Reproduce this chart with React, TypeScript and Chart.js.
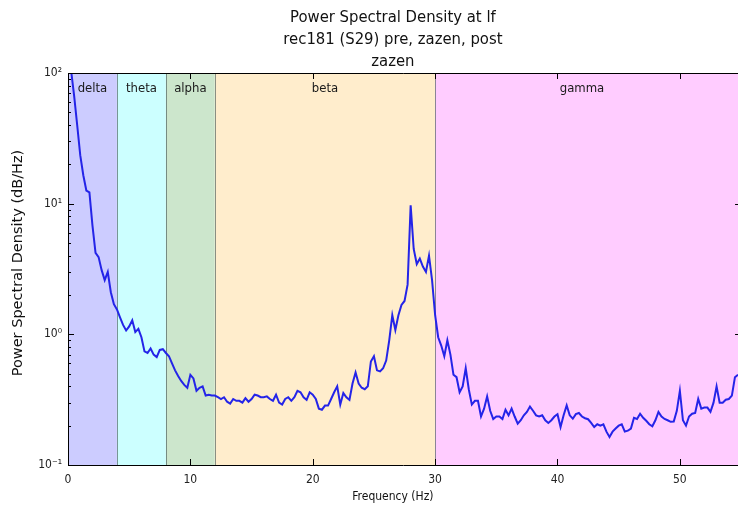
import { useEffect, useRef } from 'react';
import { Chart, registerables } from 'chart.js';

Chart.register(...registerables);

const FREQ_STEP = 0.25;
// PSD values sampled every 0.25 Hz from 0 Hz
const psd = [
  130, 105, 67, 40, 23.5, 16.5, 12.6, 12.2, 6.8, 4.2, 3.9, 3.1,
  2.6, 3.0, 2.1, 1.7, 1.55, 1.35, 1.18, 1.07, 1.15, 1.28, 1.04, 1.1,
  0.95, 0.74, 0.72, 0.78, 0.7, 0.67, 0.76, 0.77, 0.72, 0.68, 0.6, 0.53,
  0.48, 0.44, 0.41, 0.39, 0.49, 0.46, 0.37, 0.39, 0.4, 0.34, 0.345, 0.34,
  0.34, 0.33, 0.32, 0.33, 0.305, 0.295, 0.32, 0.31, 0.31, 0.3, 0.325, 0.305,
  0.32, 0.345, 0.34, 0.33, 0.33, 0.335, 0.32, 0.31, 0.345, 0.3, 0.29, 0.32,
  0.33, 0.31, 0.33, 0.37, 0.36, 0.33, 0.315, 0.36, 0.345, 0.32, 0.27, 0.265,
  0.285, 0.285, 0.32, 0.36, 0.4, 0.29, 0.355, 0.33, 0.315, 0.42, 0.51, 0.42,
  0.39, 0.38, 0.4, 0.62, 0.68, 0.53, 0.52, 0.55, 0.63, 0.9, 1.4, 1.08,
  1.4, 1.68, 1.8, 2.4, 9.7, 4.5, 3.45, 3.8, 3.3, 3.0, 4.0, 2.6,
  1.4, 0.95, 0.82, 0.68, 0.9, 0.7, 0.49, 0.47, 0.36, 0.4, 0.55, 0.38,
  0.29, 0.31, 0.31, 0.235, 0.27, 0.335, 0.26, 0.225, 0.235, 0.235, 0.225, 0.265,
  0.24, 0.27, 0.235, 0.207, 0.22, 0.24, 0.255, 0.28, 0.26, 0.24, 0.235, 0.24,
  0.22, 0.21, 0.22, 0.235, 0.245, 0.195, 0.24, 0.286, 0.24, 0.226, 0.245, 0.25,
  0.235, 0.228, 0.224, 0.21, 0.195, 0.205, 0.2, 0.205, 0.18, 0.164, 0.18, 0.19,
  0.2, 0.205, 0.18, 0.183, 0.19, 0.23, 0.225, 0.247, 0.23, 0.218, 0.205, 0.198,
  0.22, 0.255, 0.235, 0.225, 0.22, 0.214, 0.215, 0.26, 0.37, 0.22, 0.2, 0.235,
  0.247, 0.25, 0.32, 0.27, 0.275, 0.275, 0.255, 0.3, 0.4, 0.3, 0.3, 0.316,
  0.32, 0.34, 0.47, 0.49, 0.5,
];
const freqs = psd.map((_, i) => i * FREQ_STEP);

const bandNames = ['delta', 'theta', 'alpha', 'beta', 'gamma'];
const bandStarts = [0, 4, 8, 12, 30];
const bandEnds = [4, 8, 12, 30, 60];
const bandLabelAt = [2, 6, 10, 21, 42];
const bandColors = [
  'rgb(204,204,255)',
  'rgb(204,255,255)',
  'rgb(204,230,204)',
  'rgb(255,237,204)',
  'rgb(255,204,255)',
];

const X_MAX_VISIBLE = 54.75;
const X_AXIS_END = 55;
const xTicks = [0, 10, 20, 30, 40, 50];
const yTicks = [0.1, 1, 10, 100];
const yTickLabels = ['10⁻¹', '10⁰', '10¹', '10²'];
const titleLines = ['Power Spectral Density at lf', 'rec181 (S29) pre, zazen, post', 'zazen'];
const xLabel = 'Frequency (Hz)';
const yLabel = 'Power Spectral Density (dB/Hz)';

const FONT = '"DejaVu Sans Condensed", "Liberation Sans Narrow", "DejaVu Sans", sans-serif';
const FONT_REG = '"DejaVu Sans", sans-serif';

const decorPlugin = {
  id: 'decor',
  beforeDatasetsDraw(chart: any) {
    const { ctx, chartArea, scales } = chart;
    const xs = scales.x;
    ctx.save();
    ctx.beginPath();
    ctx.rect(chartArea.left, chartArea.top, chartArea.right - chartArea.left, chartArea.bottom - chartArea.top);
    ctx.clip();
    for (let i = 0; i < bandNames.length; i++) {
      const x0 = xs.getPixelForValue(bandStarts[i]);
      const x1 = xs.getPixelForValue(bandEnds[i]);
      ctx.fillStyle = bandColors[i];
      ctx.fillRect(x0, chartArea.top, x1 - x0, chartArea.bottom - chartArea.top);
    }
    ctx.strokeStyle = 'rgba(60,80,80,0.6)';
    ctx.lineWidth = 1;
    for (let i = 1; i < bandNames.length; i++) {
      const x = Math.round(xs.getPixelForValue(bandStarts[i])) + 0.5;
      ctx.beginPath();
      ctx.moveTo(x, chartArea.top);
      ctx.lineTo(x, chartArea.bottom);
      ctx.stroke();
    }
    ctx.fillStyle = '#1a1a1a';
    ctx.font = `13px ${FONT}`;
    ctx.textAlign = 'center';
    ctx.textBaseline = 'middle';
    for (let i = 0; i < bandNames.length; i++) {
      ctx.fillText(bandNames[i], xs.getPixelForValue(bandLabelAt[i]), chartArea.top + 16);
    }
    ctx.restore();
  },
  afterDraw(chart: any) {
    const { ctx, chartArea, scales } = chart;
    const xs = scales.x;
    const ys = scales.y;
    const rightEdge = xs.getPixelForValue(X_AXIS_END);
    ctx.save();
    ctx.strokeStyle = '#000';
    ctx.lineWidth = 1;
    ctx.beginPath();
    ctx.moveTo(chartArea.left + 0.5, chartArea.bottom);
    ctx.lineTo(chartArea.left + 0.5, chartArea.top + 0.5);
    ctx.lineTo(rightEdge, chartArea.top + 0.5);
    ctx.moveTo(rightEdge - 0.5, chartArea.top);
    ctx.lineTo(rightEdge - 0.5, chartArea.bottom);
    ctx.stroke();
    ctx.beginPath();
    for (const v of xTicks) {
      const x = Math.round(xs.getPixelForValue(v)) + 0.5;
      ctx.moveTo(x, chartArea.bottom);
      ctx.lineTo(x, chartArea.bottom - 6);
      ctx.moveTo(x, chartArea.top);
      ctx.lineTo(x, chartArea.top + 6);
    }
    for (let d = -1; d < 2; d++) {
      for (let m = 1; m < 10; m++) {
        const v = m * Math.pow(10, d);
        const y = Math.round(ys.getPixelForValue(v)) + 0.5;
        const len = m === 1 ? 6 : 3;
        ctx.moveTo(chartArea.left, y);
        ctx.lineTo(chartArea.left + len, y);
        ctx.moveTo(rightEdge, y);
        ctx.lineTo(rightEdge - len, y);
      }
    }
    ctx.stroke();

    ctx.fillStyle = '#111';
    ctx.textAlign = 'center';
    ctx.textBaseline = 'middle';
    const cx = xs.getPixelForValue(26.55);
    ctx.font = `16.5px ${FONT}`;
    titleLines.forEach((t, i) => ctx.fillText(t, cx, 17.5 + i * 22));
    ctx.font = `12px ${FONT}`;
    ctx.fillText(xLabel, cx, chartArea.bottom + 32);
    ctx.translate(18, (chartArea.top + chartArea.bottom) / 2 - 6);
    ctx.rotate(-Math.PI / 2);
    ctx.font = `14.5px ${FONT_REG}`;
    ctx.fillText(yLabel, 0, 0);
    ctx.restore();
  },
};

export default function App() {
  const ref = useRef<HTMLCanvasElement | null>(null);
  useEffect(() => {
    document.body.style.margin = '0';
    if (!ref.current) return;
    const chart = new Chart(ref.current, {
      type: 'line',
      data: {
        datasets: [
          {
            data: freqs.map((f, i) => ({ x: f, y: psd[i] })),
            borderColor: '#2424e8',
            borderWidth: 2,
            pointRadius: 0,
            tension: 0,
            fill: false,
          },
        ],
      },
      options: {
        animation: false,
        responsive: false,
        maintainAspectRatio: false,
        layout: { padding: { top: 73, right: 0, left: 0, bottom: 0 } },
        plugins: { legend: { display: false }, tooltip: { enabled: false }, title: { display: false } },
        scales: {
          x: {
            type: 'linear',
            min: 0,
            max: X_MAX_VISIBLE,
            afterBuildTicks: (s: any) => {
              s.ticks = xTicks.map((v) => ({ value: v }));
            },
            afterFit: (s: any) => {
              s.height = 51;
            },
            grid: { display: false, drawTicks: false },
            border: { display: true, color: '#000' },
            ticks: {
              color: '#222',
              font: { family: FONT, size: 12 },
              padding: 8,
              maxRotation: 0,
              autoSkip: false,
              callback: (v: any) => String(v),
            },
          },
          y: {
            type: 'logarithmic',
            min: 0.1,
            max: 100,
            afterBuildTicks: (s: any) => {
              s.ticks = yTicks.map((v) => ({ value: v, major: true }));
            },
            afterFit: (s: any) => {
              s.width = 68;
            },
            grid: { display: false, drawTicks: false },
            border: { display: true, color: '#000' },
            ticks: {
              color: '#222',
              font: { family: FONT, size: 12 },
              padding: 6,
              autoSkip: false,
              callback: (v: any) => {
                const idx = yTicks.findIndex((t) => Math.abs(t - v) < 1e-9);
                return idx >= 0 ? yTickLabels[idx] : '';
              },
            },
          },
        },
      },
      plugins: [decorPlugin],
    });
    return () => chart.destroy();
  }, []);
  return (
    <div style={{ width: 738, height: 516, background: '#fff', overflow: 'hidden' }}>
      <canvas ref={ref} width={738} height={516} style={{ display: 'block' }} />
    </div>
  );
}
